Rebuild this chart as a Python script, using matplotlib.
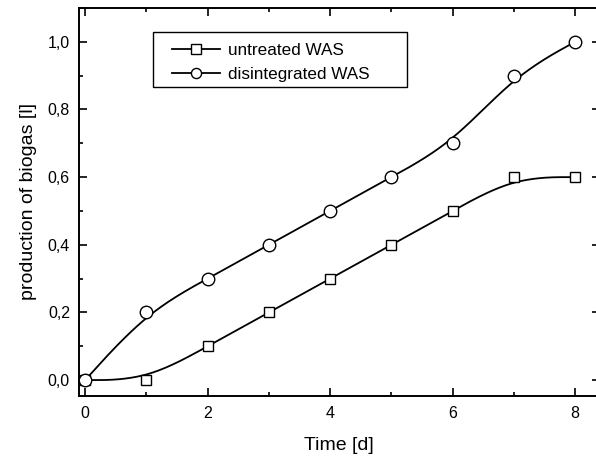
import matplotlib
matplotlib.use("Agg")
import matplotlib.pyplot as plt
from matplotlib.patches import Rectangle
from matplotlib.ticker import MultipleLocator, FuncFormatter
import numpy as np

plt.rcParams["font.family"] = ["Liberation Sans", "DejaVu Sans"]

days = [0, 1, 2, 3, 4, 5, 6, 7, 8]
untreated = [0.0, 0.0, 0.1, 0.2, 0.3, 0.4, 0.5, 0.6, 0.6]
disintegrated = [0.0, 0.2, 0.3, 0.4, 0.5, 0.6, 0.7, 0.9, 1.0]


def bspline(x, y, n=40):
    # uniform cubic B-spline, data as control points, end points tripled
    P = np.column_stack([x, y]).astype(float)
    P = np.vstack([P[:1], P[:1], P, P[-1:], P[-1:]])
    u = np.linspace(0, 1, n)[:, None]
    b0 = (1 - u) ** 3 / 6
    b1 = (3 * u**3 - 6 * u**2 + 4) / 6
    b2 = (-3 * u**3 + 3 * u**2 + 3 * u + 1) / 6
    b3 = u**3 / 6
    segs = [b0 * P[i] + b1 * P[i + 1] + b2 * P[i + 2] + b3 * P[i + 3]
            for i in range(len(P) - 3)]
    C = np.vstack(segs)
    return C[:, 0], C[:, 1]


fig = plt.figure(figsize=(5.96, 4.61), dpi=100)
ax = fig.add_axes([79 / 596, 65 / 461, 520.6 / 596, 388 / 461])

for y, mk, ms, lms, lab in [(untreated, "s", 7.9, 6.5, "untreated WAS"),
                            (disintegrated, "o", 9, 7.3, "disintegrated WAS")]:
    xs, ys = bspline(days, y)
    ax.plot(xs, ys, color="black", lw=1.3, zorder=2)
    ax.plot(days, y, mk, ms=ms, mfc="white", mec="black", mew=1.0, ls="none", zorder=3)
    ax.plot([], [], "-" + mk, color="black", lw=1.3, ms=lms, mfc="white",
            mec="black", mew=1.0, label=lab)

ax.set_xlim(-0.1, 8.4)
ax.set_ylim(-0.047, 1.1)
ax.xaxis.set_major_locator(MultipleLocator(2))
ax.xaxis.set_minor_locator(MultipleLocator(1))
ax.yaxis.set_major_locator(MultipleLocator(0.2))
ax.yaxis.set_minor_locator(MultipleLocator(0.1))
ax.yaxis.set_major_formatter(FuncFormatter(lambda v, p: f"{v:.1f}".replace(".", ",")))
ax.tick_params(which="both", direction="in", top=True, right=True, labelsize=11.5, width=1.2)
ax.tick_params(which="major", length=6)
ax.tick_params(which="minor", length=3)
ax.tick_params(axis="x", pad=7)
ax.tick_params(axis="y", pad=6.5)
for s in ax.spines.values():
    s.set_linewidth(1.4)

ax.set_xlabel("Time [d]", fontsize=14, labelpad=12)
ax.set_ylabel("production of biogas [l]", fontsize=14, labelpad=7.5)

# legend box drawn by hand so the padding matches the original
ax.add_patch(Rectangle((0.1421, 0.7964), 0.4879, 0.1418, transform=ax.transAxes,
                       fill=False, edgecolor="black", lw=1.0, zorder=4))
leg = ax.legend(loc="upper left", bbox_to_anchor=(0.1786, 0.911), borderaxespad=0,
                borderpad=0, fontsize=12.3, frameon=False, handlelength=2.8,
                labelspacing=0.55, handletextpad=0.5)

fig.savefig("out.png", dpi=100)
